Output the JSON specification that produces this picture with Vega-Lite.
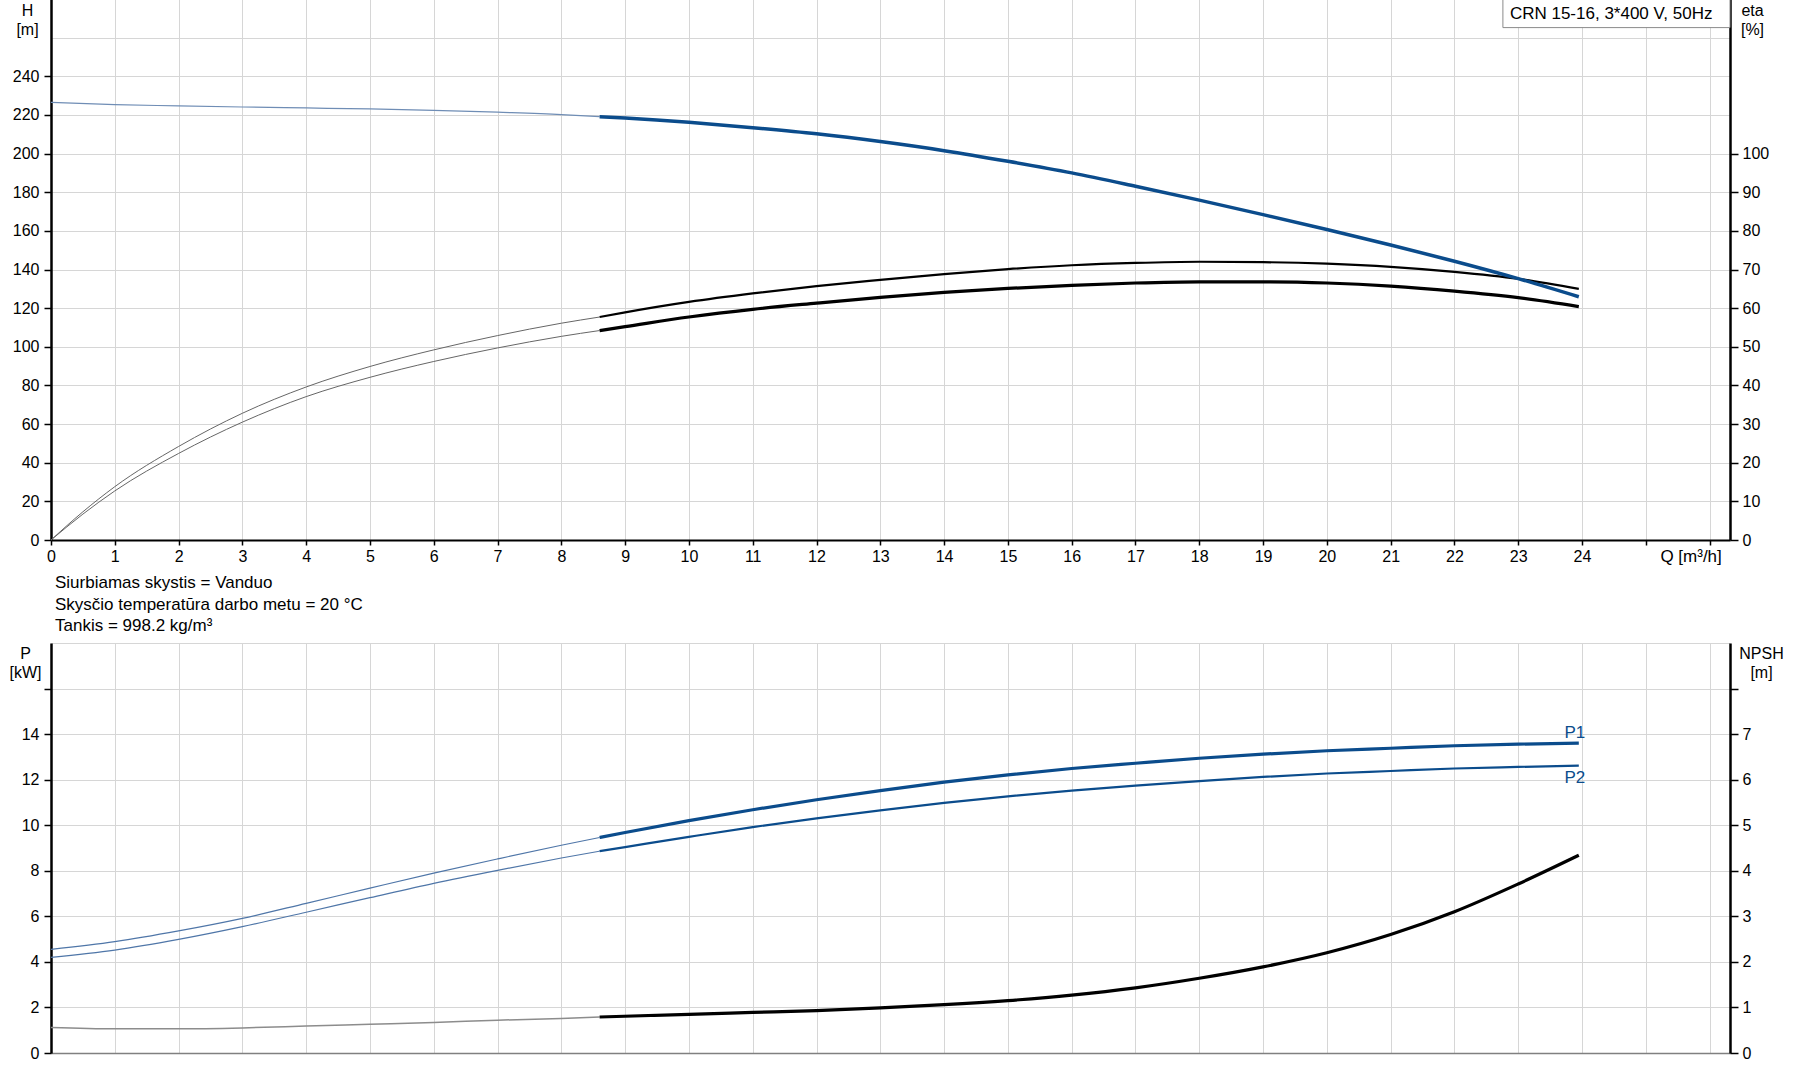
{
  "$schema": "https://vega.github.io/schema/vega-lite/v6.json",
  "padding": {"left": 9, "top": -2, "right": 5, "bottom": 5},
  "spacing": 10,
  "config": {
    "font": "Liberation Sans",
    "view": {"stroke": null},
    "axis": {
      "labelFont": "Liberation Sans", "labelFontSize": 16, "labelColor": "black",
      "gridColor": "#d6d6d6", "gridWidth": 1, "tickColor": "black", "domainColor": "black",
      "titleFont": "Liberation Sans", "titleFontSize": 16, "titleFontWeight": "normal", "titleColor": "black"
    }
  },
  "datasets": {
    "curves": [
      {"Q":0,"value":226.5,"curve":"H","part":"extended"},{"Q":1,"value":225.3,"curve":"H","part":"extended"},{"Q":2,"value":224.7,"curve":"H","part":"extended"},{"Q":3,"value":224.1,"curve":"H","part":"extended"},{"Q":4,"value":223.6,"curve":"H","part":"extended"},{"Q":5,"value":223.1,"curve":"H","part":"extended"},{"Q":6,"value":222.4,"curve":"H","part":"extended"},{"Q":7,"value":221.4,"curve":"H","part":"extended"},{"Q":8,"value":220.2,"curve":"H","part":"extended"},{"Q":8.6,"value":219.1,"curve":"H","part":"extended"},
      {"Q":8.6,"value":219.1,"curve":"H","part":"operating"},{"Q":9,"value":218.4,"curve":"H","part":"operating"},{"Q":10,"value":216.2,"curve":"H","part":"operating"},{"Q":11,"value":213.4,"curve":"H","part":"operating"},{"Q":12,"value":210.2,"curve":"H","part":"operating"},{"Q":13,"value":206.2,"curve":"H","part":"operating"},{"Q":14,"value":201.5,"curve":"H","part":"operating"},{"Q":15,"value":196.0,"curve":"H","part":"operating"},{"Q":16,"value":190.0,"curve":"H","part":"operating"},{"Q":17,"value":183.1,"curve":"H","part":"operating"},{"Q":18,"value":175.9,"curve":"H","part":"operating"},{"Q":19,"value":168.4,"curve":"H","part":"operating"},{"Q":20,"value":160.7,"curve":"H","part":"operating"},{"Q":21,"value":152.7,"curve":"H","part":"operating"},{"Q":22,"value":144.3,"curve":"H","part":"operating"},{"Q":23,"value":135.3,"curve":"H","part":"operating"},{"Q":23.95,"value":125.9,"curve":"H","part":"operating"},

      {"Q":0,"value":0,"curve":"eta1","part":"extended"},{"Q":0.5,"value":7.3,"curve":"eta1","part":"extended"},{"Q":1,"value":13.8,"curve":"eta1","part":"extended"},{"Q":2,"value":24.2,"curve":"eta1","part":"extended"},{"Q":3,"value":32.8,"curve":"eta1","part":"extended"},{"Q":4,"value":39.6,"curve":"eta1","part":"extended"},{"Q":5,"value":44.9,"curve":"eta1","part":"extended"},{"Q":6,"value":49.2,"curve":"eta1","part":"extended"},{"Q":7,"value":52.9,"curve":"eta1","part":"extended"},{"Q":8,"value":56.1,"curve":"eta1","part":"extended"},{"Q":8.6,"value":57.7,"curve":"eta1","part":"extended"},
      {"Q":8.6,"value":57.7,"curve":"eta1","part":"operating"},{"Q":9,"value":58.9,"curve":"eta1","part":"operating"},{"Q":10,"value":61.6,"curve":"eta1","part":"operating"},{"Q":11,"value":63.8,"curve":"eta1","part":"operating"},{"Q":12,"value":65.7,"curve":"eta1","part":"operating"},{"Q":13,"value":67.3,"curve":"eta1","part":"operating"},{"Q":14,"value":68.8,"curve":"eta1","part":"operating"},{"Q":15,"value":70.1,"curve":"eta1","part":"operating"},{"Q":16,"value":71.1,"curve":"eta1","part":"operating"},{"Q":17,"value":71.7,"curve":"eta1","part":"operating"},{"Q":18,"value":72.0,"curve":"eta1","part":"operating"},{"Q":19,"value":71.9,"curve":"eta1","part":"operating"},{"Q":20,"value":71.5,"curve":"eta1","part":"operating"},{"Q":21,"value":70.7,"curve":"eta1","part":"operating"},{"Q":22,"value":69.4,"curve":"eta1","part":"operating"},{"Q":23,"value":67.6,"curve":"eta1","part":"operating"},{"Q":23.95,"value":65.0,"curve":"eta1","part":"operating"},

      {"Q":0,"value":0,"curve":"eta2","part":"extended"},{"Q":0.5,"value":6.7,"curve":"eta2","part":"extended"},{"Q":1,"value":12.7,"curve":"eta2","part":"extended"},{"Q":2,"value":22.4,"curve":"eta2","part":"extended"},{"Q":3,"value":30.5,"curve":"eta2","part":"extended"},{"Q":4,"value":37.1,"curve":"eta2","part":"extended"},{"Q":5,"value":42.1,"curve":"eta2","part":"extended"},{"Q":6,"value":46.2,"curve":"eta2","part":"extended"},{"Q":7,"value":49.7,"curve":"eta2","part":"extended"},{"Q":8,"value":52.7,"curve":"eta2","part":"extended"},{"Q":8.6,"value":54.2,"curve":"eta2","part":"extended"},
      {"Q":8.6,"value":54.2,"curve":"eta2","part":"operating"},{"Q":9,"value":55.2,"curve":"eta2","part":"operating"},{"Q":10,"value":57.7,"curve":"eta2","part":"operating"},{"Q":11,"value":59.7,"curve":"eta2","part":"operating"},{"Q":12,"value":61.3,"curve":"eta2","part":"operating"},{"Q":13,"value":62.8,"curve":"eta2","part":"operating"},{"Q":14,"value":64.1,"curve":"eta2","part":"operating"},{"Q":15,"value":65.1,"curve":"eta2","part":"operating"},{"Q":16,"value":65.9,"curve":"eta2","part":"operating"},{"Q":17,"value":66.5,"curve":"eta2","part":"operating"},{"Q":18,"value":66.8,"curve":"eta2","part":"operating"},{"Q":19,"value":66.8,"curve":"eta2","part":"operating"},{"Q":20,"value":66.5,"curve":"eta2","part":"operating"},{"Q":21,"value":65.7,"curve":"eta2","part":"operating"},{"Q":22,"value":64.4,"curve":"eta2","part":"operating"},{"Q":23,"value":62.7,"curve":"eta2","part":"operating"},{"Q":23.95,"value":60.4,"curve":"eta2","part":"operating"},

      {"Q":0,"value":4.55,"curve":"P1","part":"extended"},{"Q":1,"value":4.89,"curve":"P1","part":"extended"},{"Q":2,"value":5.36,"curve":"P1","part":"extended"},{"Q":3,"value":5.91,"curve":"P1","part":"extended"},{"Q":4,"value":6.57,"curve":"P1","part":"extended"},{"Q":5,"value":7.24,"curve":"P1","part":"extended"},{"Q":6,"value":7.9,"curve":"P1","part":"extended"},{"Q":7,"value":8.52,"curve":"P1","part":"extended"},{"Q":8,"value":9.12,"curve":"P1","part":"extended"},{"Q":8.6,"value":9.46,"curve":"P1","part":"extended"},
      {"Q":8.6,"value":9.46,"curve":"P1","part":"operating"},{"Q":9,"value":9.68,"curve":"P1","part":"operating"},{"Q":10,"value":10.2,"curve":"P1","part":"operating"},{"Q":11,"value":10.68,"curve":"P1","part":"operating"},{"Q":12,"value":11.12,"curve":"P1","part":"operating"},{"Q":13,"value":11.52,"curve":"P1","part":"operating"},{"Q":14,"value":11.89,"curve":"P1","part":"operating"},{"Q":15,"value":12.21,"curve":"P1","part":"operating"},{"Q":16,"value":12.49,"curve":"P1","part":"operating"},{"Q":17,"value":12.72,"curve":"P1","part":"operating"},{"Q":18,"value":12.94,"curve":"P1","part":"operating"},{"Q":19,"value":13.12,"curve":"P1","part":"operating"},{"Q":20,"value":13.27,"curve":"P1","part":"operating"},{"Q":21,"value":13.38,"curve":"P1","part":"operating"},{"Q":22,"value":13.49,"curve":"P1","part":"operating"},{"Q":23,"value":13.56,"curve":"P1","part":"operating"},{"Q":23.95,"value":13.6,"curve":"P1","part":"operating"},

      {"Q":0,"value":4.2,"curve":"P2","part":"extended"},{"Q":1,"value":4.52,"curve":"P2","part":"extended"},{"Q":2,"value":4.99,"curve":"P2","part":"extended"},{"Q":3,"value":5.55,"curve":"P2","part":"extended"},{"Q":4,"value":6.18,"curve":"P2","part":"extended"},{"Q":5,"value":6.82,"curve":"P2","part":"extended"},{"Q":6,"value":7.45,"curve":"P2","part":"extended"},{"Q":7,"value":8.02,"curve":"P2","part":"extended"},{"Q":8,"value":8.56,"curve":"P2","part":"extended"},{"Q":8.6,"value":8.86,"curve":"P2","part":"extended"},
      {"Q":8.6,"value":8.86,"curve":"P2","part":"operating"},{"Q":9,"value":9.04,"curve":"P2","part":"operating"},{"Q":10,"value":9.49,"curve":"P2","part":"operating"},{"Q":11,"value":9.92,"curve":"P2","part":"operating"},{"Q":12,"value":10.3,"curve":"P2","part":"operating"},{"Q":13,"value":10.65,"curve":"P2","part":"operating"},{"Q":14,"value":10.98,"curve":"P2","part":"operating"},{"Q":15,"value":11.27,"curve":"P2","part":"operating"},{"Q":16,"value":11.52,"curve":"P2","part":"operating"},{"Q":17,"value":11.74,"curve":"P2","part":"operating"},{"Q":18,"value":11.94,"curve":"P2","part":"operating"},{"Q":19,"value":12.12,"curve":"P2","part":"operating"},{"Q":20,"value":12.27,"curve":"P2","part":"operating"},{"Q":21,"value":12.38,"curve":"P2","part":"operating"},{"Q":22,"value":12.49,"curve":"P2","part":"operating"},{"Q":23,"value":12.56,"curve":"P2","part":"operating"},{"Q":23.95,"value":12.62,"curve":"P2","part":"operating"},

      {"Q":0,"value":0.56,"curve":"NPSH","part":"extended"},{"Q":1,"value":0.53,"curve":"NPSH","part":"extended"},{"Q":2,"value":0.53,"curve":"NPSH","part":"extended"},{"Q":3,"value":0.55,"curve":"NPSH","part":"extended"},{"Q":4,"value":0.59,"curve":"NPSH","part":"extended"},{"Q":5,"value":0.63,"curve":"NPSH","part":"extended"},{"Q":6,"value":0.67,"curve":"NPSH","part":"extended"},{"Q":7,"value":0.72,"curve":"NPSH","part":"extended"},{"Q":8,"value":0.76,"curve":"NPSH","part":"extended"},{"Q":8.6,"value":0.79,"curve":"NPSH","part":"extended"},
      {"Q":8.6,"value":0.79,"curve":"NPSH","part":"operating"},{"Q":10,"value":0.85,"curve":"NPSH","part":"operating"},{"Q":11,"value":0.89,"curve":"NPSH","part":"operating"},{"Q":12,"value":0.93,"curve":"NPSH","part":"operating"},{"Q":13,"value":0.99,"curve":"NPSH","part":"operating"},{"Q":14,"value":1.06,"curve":"NPSH","part":"operating"},{"Q":15,"value":1.15,"curve":"NPSH","part":"operating"},{"Q":16,"value":1.27,"curve":"NPSH","part":"operating"},{"Q":17,"value":1.43,"curve":"NPSH","part":"operating"},{"Q":18,"value":1.64,"curve":"NPSH","part":"operating"},{"Q":19,"value":1.89,"curve":"NPSH","part":"operating"},{"Q":20,"value":2.2,"curve":"NPSH","part":"operating"},{"Q":21,"value":2.6,"curve":"NPSH","part":"operating"},{"Q":22,"value":3.1,"curve":"NPSH","part":"operating"},{"Q":23,"value":3.71,"curve":"NPSH","part":"operating"},{"Q":23.95,"value":4.34,"curve":"NPSH","part":"operating"}
    ],
    "infobox": [
      {"Q1": 22.76, "Q2": 26.32, "H1": 265.2, "H2": 280, "Hlabel": 269.6, "label": "CRN 15-16, 3*400 V, 50Hz"}
    ]
  },
  "vconcat": [
    {
      "width": 1679,
      "height": 541,
      "layer": [
        {
          "data": {"name": "curves"},
          "transform": [{"filter": "datum.curve === 'eta1' || datum.curve === 'eta2'"}],
          "mark": {"type": "line", "interpolate": "monotone"},
          "encoding": {
            "x": {"field": "Q", "type": "quantitative", "scale": {"domain": [0, 26.32], "nice": false, "zero": false}},
            "y": {"field": "value", "type": "quantitative", "scale": {"domain": [0, 140], "nice": false},
              "axis": {"orient": "right", "values": [0,10,20,30,40,50,60,70,80,90,100,110,120,130,140],
                "labelExpr": "datum.value > 100 ? '' : datum.label",
                "tickOpacity": {"condition": {"test": "datum.value > 100", "value": 0}, "value": 1},
                "grid": false, "tickSize": 8, "tickWidth": 1.5, "labelPadding": 4, "domainWidth": 2.5,
                "title": ["eta", "[%]"], "titleAngle": 0, "titleAlign": "center", "titleBaseline": "top",
                "titleX": 22, "titleY": 3, "titleLineHeight": 19}},
            "detail": [{"field": "curve"}, {"field": "part"}],
            "color": {"condition": {"test": "datum.part === 'extended'", "value": "#666666"}, "value": "#000000"},
            "strokeWidth": {"condition": [{"test": "datum.part === 'extended'", "value": 1}, {"test": "datum.curve === 'eta1'", "value": 2.2}], "value": 3.2}
          }
        },
        {
          "data": {"name": "curves"},
          "transform": [{"filter": "datum.curve === 'H'"}],
          "mark": {"type": "line", "interpolate": "monotone"},
          "encoding": {
            "x": {"field": "Q", "type": "quantitative", "scale": {"domain": [0, 26.32], "nice": false, "zero": false},
              "axis": {"values": [0,1,2,3,4,5,6,7,8,9,10,11,12,13,14,15,16,17,18,19,20,21,22,23,24,25,26],
                "format": "d",
                "labelExpr": "datum.value == 26 ? 'Q [m³/h]' : (datum.value == 25 ? '' : datum.label)",
                "labelOffset": {"condition": {"test": "datum.value == 26", "value": -19}, "value": 0},
                "labelFontSize": {"condition": {"test": "datum.value == 26", "value": 17}, "value": 16},
                "labelFlush": false, "labelOverlap": false, "labelBound": false,
                "tickSize": 5, "tickWidth": 1.5, "domainWidth": 2, "labelPadding": 3, "grid": true, "title": null}},
            "y": {"field": "value", "type": "quantitative", "scale": {"domain": [0, 280], "nice": false},
              "axis": {"orient": "left", "values": [0,20,40,60,80,100,120,140,160,180,200,220,240,260,280],
                "labelExpr": "datum.value > 240 ? '' : datum.label",
                "tickOpacity": {"condition": {"test": "datum.value > 240", "value": 0}, "value": 1},
                "grid": true, "tickSize": 7, "tickWidth": 1.5, "labelPadding": 5, "domainWidth": 2.5,
                "title": ["H", "[m]"], "titleAngle": 0, "titleAlign": "center", "titleBaseline": "top",
                "titleX": -24, "titleY": 3, "titleLineHeight": 19}},
            "detail": {"field": "part"},
            "color": {"condition": {"test": "datum.part === 'extended'", "value": "#6f8db5"}, "value": "#0b4c8c"},
            "strokeWidth": {"condition": {"test": "datum.part === 'extended'", "value": 1.2}, "value": 3.5}
          }
        },
        {
          "data": {"name": "infobox"},
          "mark": {"type": "rect", "fill": "white", "stroke": "#8a8a8a", "strokeWidth": 1},
          "encoding": {
            "x": {"field": "Q1", "type": "quantitative", "scale": {"domain": [0, 26.32], "nice": false, "zero": false}},
            "x2": {"field": "Q2"},
            "y": {"field": "H1", "type": "quantitative", "scale": {"domain": [0, 280], "nice": false}, "axis": null},
            "y2": {"field": "H2"}
          }
        },
        {
          "data": {"name": "infobox"},
          "mark": {"type": "text", "align": "left", "baseline": "alphabetic", "dx": 7, "fontSize": 17, "font": "Liberation Sans", "color": "black"},
          "encoding": {
            "x": {"field": "Q1", "type": "quantitative", "scale": {"domain": [0, 26.32], "nice": false, "zero": false}},
            "y": {"field": "Hlabel", "type": "quantitative", "scale": {"domain": [0, 280], "nice": false}, "axis": null},
            "text": {"field": "label"}
          }
        }
      ],
      "resolve": {"scale": {"y": "independent"}}
    },
    {
      "width": 1679,
      "height": 410,
      "title": {
        "text": ["Siurbiamas skystis = Vanduo", "Skysčio temperatūra darbo metu = 20 °C", "Tankis = 998.2 kg/m³"],
        "anchor": "start", "frame": "group", "fontSize": 17, "fontWeight": "normal", "font": "Liberation Sans",
        "color": "black", "lineHeight": 21.3, "offset": 8, "dx": 4
      },
      "layer": [
        {
          "data": {"name": "curves"},
          "transform": [{"filter": "datum.curve === 'P1' || datum.curve === 'P2'"}],
          "mark": {"type": "line", "interpolate": "monotone"},
          "encoding": {
            "x": {"field": "Q", "type": "quantitative", "scale": {"domain": [0, 26.32], "nice": false, "zero": false},
              "axis": {"orient": "bottom", "values": [0,1,2,3,4,5,6,7,8,9,10,11,12,13,14,15,16,17,18,19,20,21,22,23,24,25,26],
                "labels": false, "ticks": false, "tickSize": 0, "grid": true, "domainColor": "#808080", "domainWidth": 1.5, "title": null}},
            "y": {"field": "value", "type": "quantitative", "scale": {"domain": [0, 18], "nice": false},
              "axis": {"orient": "left", "values": [0,2,4,6,8,10,12,14,16,18],
                "labelExpr": "datum.value > 14 ? '' : datum.label",
                "tickOpacity": {"condition": {"test": "datum.value > 16", "value": 0}, "value": 1},
                "grid": true, "tickSize": 7, "tickWidth": 1.5, "labelPadding": 5, "domainWidth": 2.5,
                "title": ["P", "[kW]"], "titleAngle": 0, "titleAlign": "center", "titleBaseline": "top",
                "titleX": -26, "titleY": 2, "titleLineHeight": 19}},
            "detail": [{"field": "curve"}, {"field": "part"}],
            "color": {"condition": {"test": "datum.part === 'extended'", "value": "#4f76a8"}, "value": "#0b4c8c"},
            "strokeWidth": {"condition": [{"test": "datum.part === 'extended'", "value": 1.2}, {"test": "datum.curve === 'P2'", "value": 2.2}], "value": 3.2}
          }
        },
        {
          "data": {"name": "curves"},
          "transform": [{"filter": "datum.curve === 'NPSH'"}],
          "mark": {"type": "line", "interpolate": "monotone"},
          "encoding": {
            "x": {"field": "Q", "type": "quantitative", "scale": {"domain": [0, 26.32], "nice": false, "zero": false}},
            "y": {"field": "value", "type": "quantitative", "scale": {"domain": [0, 9], "nice": false},
              "axis": {"orient": "right", "values": [0,1,2,3,4,5,6,7,8,9],
                "labelExpr": "datum.value > 7 ? '' : datum.label",
                "tickOpacity": {"condition": {"test": "datum.value > 8", "value": 0}, "value": 1},
                "grid": false, "tickSize": 8, "tickWidth": 1.5, "labelPadding": 4, "domainWidth": 2.5,
                "title": ["NPSH", "[m]"], "titleAngle": 0, "titleAlign": "center", "titleBaseline": "top",
                "titleX": 31, "titleY": 2, "titleLineHeight": 19}},
            "detail": {"field": "part"},
            "color": {"condition": {"test": "datum.part === 'extended'", "value": "#8c8c8c"}, "value": "#000000"},
            "strokeWidth": {"condition": {"test": "datum.part === 'extended'", "value": 1.5}, "value": 3.2}
          }
        },
        {
          "mark": {"type": "rule", "color": "black", "strokeWidth": 2},
          "encoding": {
            "y": {"datum": 18, "type": "quantitative", "scale": {"domain": [0, 18], "nice": false}, "axis": null}
          }
        },
        {
          "data": {"name": "curves"},
          "transform": [{"filter": "datum.curve === 'P1' && datum.Q == 23.95"}],
          "mark": {"type": "text", "align": "center", "baseline": "middle", "dx": -4, "dy": -10, "fontSize": 17, "font": "Liberation Sans", "color": "#0b4c8c"},
          "encoding": {
            "x": {"field": "Q", "type": "quantitative", "scale": {"domain": [0, 26.32], "nice": false, "zero": false}},
            "y": {"field": "value", "type": "quantitative", "scale": {"domain": [0, 18], "nice": false}, "axis": null},
            "text": {"field": "curve"}
          }
        },
        {
          "data": {"name": "curves"},
          "transform": [{"filter": "datum.curve === 'P2' && datum.Q == 23.95"}],
          "mark": {"type": "text", "align": "center", "baseline": "middle", "dx": -4, "dy": 12, "fontSize": 17, "font": "Liberation Sans", "color": "#0b4c8c"},
          "encoding": {
            "x": {"field": "Q", "type": "quantitative", "scale": {"domain": [0, 26.32], "nice": false, "zero": false}},
            "y": {"field": "value", "type": "quantitative", "scale": {"domain": [0, 18], "nice": false}, "axis": null},
            "text": {"field": "curve"}
          }
        }
      ],
      "resolve": {"scale": {"y": "independent"}}
    }
  ]
}
